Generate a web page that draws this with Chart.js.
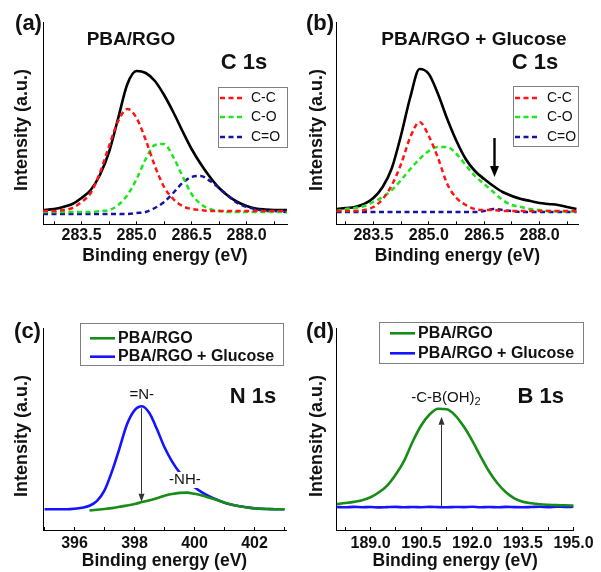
<!DOCTYPE html>
<html lang="en">
<head>
<meta charset="UTF-8">
<title>XPS spectra PBA/RGO</title>
<script src="https://cdn.jsdelivr.net/npm/chart.js"></script>
<style>
  body { margin: 0; background: #fff; }
  .wrap { position: relative; width: 601px; height: 572px; }
  canvas { position: absolute; }
</style>
</head>
<body>
<div class="wrap">
  <canvas id="chartA" width="300" height="280" style="left:0;top:0"></canvas>
  <canvas id="chartB" width="301" height="280" style="left:300px;top:0"></canvas>
  <canvas id="chartC" width="300" height="292" style="left:0;top:280px"></canvas>
  <canvas id="chartD" width="301" height="292" style="left:300px;top:280px"></canvas>
</div>
<script>
// ---- (a) C 1s, PBA/RGO ----
const xA = [282.45, 282.75, 283.0, 283.25, 283.5, 283.75, 284.0, 284.25, 284.5, 284.75, 285.0, 285.25, 285.5,
            285.75, 286.0, 286.25, 286.5, 286.75, 287.0, 287.25, 287.5, 287.75, 288.0, 288.25, 288.5, 288.75, 289.1];
const blackA = [0, 1, 3, 6, 12, 20, 35, 58, 92, 126, 139, 137, 129, 115, 98, 79, 61, 46, 33, 22, 14, 8, 4, 1.5, 0.5, 0, 0];
const ccA    = [-1, -1, 0, 2, 8, 17, 37, 64, 89, 101, 92, 70, 44, 23, 11, 4, 1, 0, -1, -1, -1, -1, -1, -1, -1, -1, -1];
const coA    = [-2, -2, -2, -2, -2, -2, -1, 0, 5, 15, 31, 51, 65, 66, 53, 34, 16, 6, 1, -1, -2, -2, -2, -2, -2, -2, -2];
const c_oA   = [-4, -4, -4, -4, -4, -4, -4, -4, -4, -4, -3, -2, 2, 8, 17, 27, 33, 34, 29, 22, 14, 7, 3, 1, -1, -1, -2];
const ticksA = [283.5, 285.0, 286.5, 288.0];

// ---- (b) C 1s, PBA/RGO + Glucose ----
const xB = [282.5, 282.75, 283.0, 283.25, 283.5, 283.75, 284.0, 284.25, 284.5, 284.75, 285.0, 285.25, 285.5,
            285.75, 286.0, 286.25, 286.5, 286.75, 287.0, 287.25, 287.5, 287.75, 288.0, 288.25, 288.5, 288.75, 289.0];
const blackB = [1, 2, 3, 6, 12, 23, 42, 75, 113, 141, 136, 116, 91, 69, 51, 39, 31, 24, 18, 14, 11, 9, 7, 6, 5, 3, 1];
const ccB    = [-1, -1, -1, 0, 3, 11, 25, 46, 73, 88, 74, 52, 26, 12, 5, 1, 0, 0, -1, -1, -1, -1, -1, -1, -1, -1, -1];
const coB    = [-1, 1, 2, 4, 8, 13, 20, 30, 41, 51, 59, 63, 63, 56, 45, 34, 26, 18, 10, 5, 3, 1, 0, -1, -1.5, -1.5, -1.5];
const c_oB   = [-2, -2, -2, -2, -2, -2, -2, -2, -2, -2, -2, -2, -2, -2, -2, -2, -1, 1, 0, -1, -2, -2, -2, -2, -2, -2, -2];
const ticksB = [283.5, 285.0, 286.5, 288.0];

// ---- (c) N 1s ----
const xC = [395.0, 395.25, 395.5, 395.75, 396.0, 396.25, 396.5, 396.75, 397.0, 397.25, 397.5, 397.75, 398.0,
            398.25, 398.5, 398.75, 399.0, 399.25, 399.5, 399.75, 400.0, 400.25, 400.5, 400.75, 401.0, 401.25,
            401.5, 401.75, 402.0, 402.25, 402.5, 402.75, 403.0];
const rgoC     = [null, null, null, null, null, null, -1.2, -0.5, 0.3, 1.2, 2.5, 3.8, 5.3, 7.2, 9, 11, 13.6, 15.3,
                  16.4, 16.7, 15.5, 13.8, 11.5, 9.2, 6.8, 4.6, 3, 1.8, 0.9, 0.4, 0.2, 0, 0];
const glucoseC = [0, 0, 0, 0, 0.5, 1.5, 3.5, 8.5, 19, 38, 61, 85, 99, 103, 96, 80, 62, 48, 37, 29, 22, 17, 13,
                  9.5, 6.5, 4.5, 3, 2, 1, 0.5, 0.3, 0, 0];
const ticksC = [396, 398, 400, 402];

// ---- (d) B 1s ----
const xD = [188.0, 188.25, 188.5, 188.75, 189.0, 189.25, 189.5, 189.75, 190.0, 190.25, 190.5, 190.75, 191.0,
            191.25, 191.5, 191.75, 192.0, 192.25, 192.5, 192.75, 193.0, 193.25, 193.5, 193.75, 194.0, 194.25,
            194.5, 194.75, 195.0];
const rgoD     = [3.3, 4.3, 5.4, 7, 10, 15, 22, 33, 47, 66, 82, 93, 98.5, 98, 92, 81, 67, 51, 36, 24, 15, 9, 5.5,
                  4, 3, 2.5, 2.2, 2, 1.7];
const glucoseD = [0.3, 0, 0.4, 0.1, 0.3, -0.1, 0.2, 0.4, 0, 0.3, 0.1, 0.4, 0.2, 0, 0.3, 0.2, 0.5, 0.1, 0.3, 0,
                  0.4, 0.2, 0.1, 0.3, 0.5, 0.2, 0.6, 0.4, 0.5];
const ticksD = [189.0, 190.5, 192.0, 193.5, 195.0];

const FONT = '"Liberation Sans", Arial, sans-serif';
const DASH = [5, 3.5];

function pts(xs, ys) {
    return xs.map((x, i) => ({ x: x, y: ys[i] }));
}

function line(label, xs, ys, color, dashed) {
    return {
        label: label,
        data: pts(xs, ys),
        borderColor: color,
        borderWidth: dashed ? 2.5 : 2.6,
        borderDash: dashed ? DASH : [],
        pointRadius: 0,
        fill: false,
        cubicInterpolationMode: 'monotone'
    };
}

function xScale(min, max, step, labels, digits, tickPad, height, titlePad) {
    return {
        type: 'linear', min: min, max: max,
        afterFit: s => { s.height = height; },
        border: { display: true, color: '#000', width: 1 },
        grid: { drawOnChartArea: false, drawTicks: true, tickLength: -3, tickColor: '#000', color: '#000' },
        ticks: {
            stepSize: step, includeBounds: false, autoSkip: false, maxRotation: 0, minRotation: 0,
            padding: tickPad, color: '#111',
            font: { family: FONT, size: 16, weight: 'bold' },
            callback: v => labels.some(l => Math.abs(l - v) < 1e-6) ? v.toFixed(digits) : ''
        },
        title: {
            display: true, text: 'Binding energy (eV)', color: '#111',
            font: { family: FONT, size: 17.5, weight: 'bold' },
            padding: { top: 0, bottom: titlePad }
        }
    };
}

function yScale(min, max, width) {
    return {
        type: 'linear', min: min, max: max,
        afterFit: s => { s.width = width; },
        border: { display: true, color: '#000', width: 1 },
        grid: { drawOnChartArea: false, drawTicks: false },
        ticks: { display: false }
    };
}

function drawArrow(ctx, x, y0, y1, lw, hw, hh, color) {
    const dir = Math.sign(y1 - y0);
    ctx.strokeStyle = color;
    ctx.lineWidth = lw;
    ctx.beginPath();
    ctx.moveTo(x, y0);
    ctx.lineTo(x, y1 - dir * hh);
    ctx.stroke();
    ctx.fillStyle = color;
    ctx.beginPath();
    ctx.moveTo(x, y1);
    ctx.lineTo(x - hw / 2, y1 - dir * hh);
    ctx.lineTo(x + hw / 2, y1 - dir * hh);
    ctx.closePath();
    ctx.fill();
}

// labels, legend box and arrows drawn over each panel
const deco = {
    id: 'deco',
    afterDraw(chart, args, opts) {
        const ctx = chart.ctx, xs = chart.scales.x, ys = chart.scales.y;
        ctx.save();
        ctx.textBaseline = 'middle';

        (opts.arrows || []).forEach(a => {
            const x = Math.round(xs.getPixelForValue(a.x)) + 0.5;
            drawArrow(ctx, x, ys.getPixelForValue(a.from), ys.getPixelForValue(a.to), a.lw, a.hw, a.hh, a.color);
        });

        (opts.texts || []).forEach(t => {
            ctx.font = t.font;
            ctx.fillStyle = '#111';
            ctx.textAlign = 'center';
            let x = t.x, y = t.y;
            if (t.data) { x = xs.getPixelForValue(t.x); y = ys.getPixelForValue(t.y); }
            if (t.rotate) {
                ctx.save();
                ctx.translate(x, y);
                ctx.rotate(-Math.PI / 2);
                ctx.fillText(t.text, 0, 0);
                ctx.restore();
                return;
            }
            let w = ctx.measureText(t.text).width, subW = 0;
            if (t.sub) {
                ctx.font = t.subFont;
                subW = ctx.measureText(t.sub).width;
                ctx.font = t.font;
            }
            const left = x - (w + subW) / 2;
            if (t.bg) {
                ctx.fillStyle = '#fff';
                ctx.fillRect(left - 2, y - 8, w + subW + 4, 16);
                ctx.fillStyle = '#111';
            }
            ctx.textAlign = 'left';
            ctx.fillText(t.text, left, y);
            if (t.sub) {
                ctx.font = t.subFont;
                ctx.fillText(t.sub, left + w, y + 4);
            }
        });

        if (opts.legend) {
            const L = opts.legend;
            ctx.setLineDash([]);
            ctx.strokeStyle = '#808080';
            ctx.lineWidth = 1;
            ctx.strokeRect(L.box[0] + 0.5, L.box[1] + 0.5, L.box[2], L.box[3]);
            L.rows.forEach(r => {
                const ds = chart.data.datasets[r.ds];
                ctx.strokeStyle = ds.borderColor;
                ctx.lineWidth = ds.borderWidth;
                ctx.setLineDash(ds.borderDash || []);
                ctx.beginPath();
                ctx.moveTo(L.line[0], r.y);
                ctx.lineTo(L.line[1], r.y);
                ctx.stroke();
                ctx.setLineDash([]);
                ctx.font = L.font;
                ctx.fillStyle = '#111';
                ctx.textAlign = 'left';
                ctx.fillText(ds.label, L.textX, r.y);
            });
        }
        ctx.restore();
    }
};

function panel(id, datasets, scales, padding, decoOpts) {
    return new Chart(document.getElementById(id), {
        type: 'line',
        data: { datasets: datasets },
        options: {
            responsive: false,
            animation: false,
            devicePixelRatio: 1,
            layout: { padding: padding },
            scales: scales,
            plugins: { legend: { display: false }, tooltip: { enabled: false }, deco: decoOpts }
        },
        plugins: [deco]
    });
}

const RED = '#ff1414', LIME = '#1ee61e', NAVY = '#1414a0', GREEN = '#178c17', BLUE = '#1414ff';
const bold = s => 'bold ' + s + 'px ' + FONT;
const norm = s => s + 'px ' + FONT;

panel('chartA', [
    line('C-C', xA, ccA, RED, true),
    line('C-O', xA, coA, LIME, true),
    line('C=O', xA, c_oA, NAVY, true),
    line('total', xA, blackA, '#000', false)
], {
    x: xScale(282.45, 289.1, 0.75, ticksA, 1, 4.9, 55.7, 13.5),
    y: yScale(-14.3, 188, 43)
}, { top: 22, right: 13, left: 0, bottom: 0 }, {
    texts: [
        { text: '(a)', x: 28.5, y: 24, font: bold(22) },
        { text: 'PBA/RGO', x: 131, y: 40, font: bold(19) },
        { text: 'C 1s', x: 244, y: 63, font: bold(22) },
        { text: 'Intensity (a.u.)', x: 22.5, y: 130, font: bold(18), rotate: true }
    ],
    legend: { box: [218, 87, 69, 60], line: [220, 245], textX: 251, font: norm(14),
              rows: [{ ds: 0, y: 98 }, { ds: 1, y: 117 }, { ds: 2, y: 137 }] }
});

panel('chartB', [
    line('C-C', xB, ccB, RED, true),
    line('C-O', xB, coB, LIME, true),
    line('C=O', xB, c_oB, NAVY, true),
    line('total', xB, blackB, '#000', false)
], {
    x: xScale(282.5, 289.05, 0.75, ticksB, 1, 4.9, 55.7, 13.5),
    y: yScale(-14.3, 188, 36.5)
}, { top: 22, right: 22.7, left: 0, bottom: 0 }, {
    texts: [
        { text: '(b)', x: 20, y: 24, font: bold(22) },
        { text: 'PBA/RGO + Glucose', x: 174, y: 40, font: bold(19) },
        { text: 'C 1s', x: 235, y: 63, font: bold(22) },
        { text: 'Intensity (a.u.)', x: 17, y: 130, font: bold(18), rotate: true }
    ],
    arrows: [{ x: 286.77, from: 72, to: 33, lw: 2.4, hw: 9, hh: 11, color: '#000' }],
    legend: { box: [213, 86, 65, 60], line: [215, 240], textX: 247, font: norm(14),
              rows: [{ ds: 0, y: 98 }, { ds: 1, y: 117 }, { ds: 2, y: 137 }] }
});

panel('chartC', [
    line('PBA/RGO', xC, rgoC, GREEN, false),
    line('PBA/RGO + Glucose', xC, glucoseC, BLUE, false)
], {
    x: xScale(394.95, 403.05, 1, ticksC, 0, 7.4, 42, 0),
    y: yScale(-20.7, 181.3, 43)
}, { top: 48, right: 14, left: 0, bottom: 0 }, {
    arrows: [{ x: 398.23, from: 101, to: 7.6, lw: 1, hw: 6, hh: 8, color: '#333' }],
    texts: [
        { text: '(c)', x: 27.5, y: 52, font: bold(22) },
        { text: 'N 1s', x: 253, y: 116.7, font: bold(22) },
        { text: '=N-', x: 398.24, y: 114.3, data: true, font: norm(15) },
        { text: '-NH-', x: 399.68, y: 29.3, data: true, font: norm(15), bg: true },
        { text: 'Intensity (a.u.)', x: 22.5, y: 156, font: bold(18), rotate: true }
    ],
    legend: { box: [80, 43, 203, 42], line: [90, 115], textX: 118, font: bold(16),
              rows: [{ ds: 0, y: 58.3 }, { ds: 1, y: 76.7 }] }
});

panel('chartD', [
    line('PBA/RGO', xD, rgoD, GREEN, false),
    line('PBA/RGO + Glucose', xD, glucoseD, BLUE, false)
], {
    x: xScale(188, 195, 0.75, ticksD, 1, 7.4, 42, 0),
    y: yScale(-22.7, 179.3, 36.7)
}, { top: 48, right: 22.7, left: 0, bottom: 0 }, {
    arrows: [{ x: 191.08, from: 0.6, to: 90.6, lw: 1, hw: 6, hh: 8, color: '#333' }],
    texts: [
        { text: '(d)', x: 20, y: 52, font: bold(22) },
        { text: 'B 1s', x: 240.7, y: 117, font: bold(22) },
        { text: '-C-B(OH)', sub: '2', x: 191.23, y: 109.3, data: true, font: norm(15), subFont: norm(11) },
        { text: 'Intensity (a.u.)', x: 17, y: 156, font: bold(18), rotate: true }
    ],
    legend: { box: [79, 42, 204, 41], line: [90, 115], textX: 118, font: bold(16),
              rows: [{ ds: 0, y: 53.3 }, { ds: 1, y: 73.3 }] }
});
</script>
</body>
</html>
